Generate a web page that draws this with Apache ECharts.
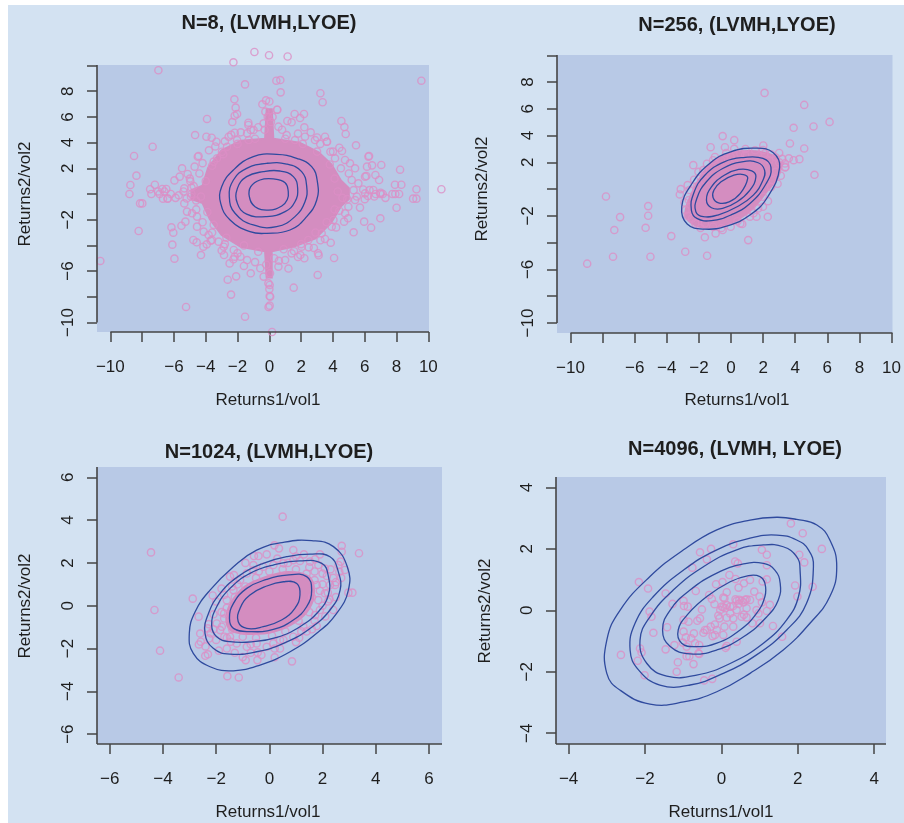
<!DOCTYPE html>
<html><head><meta charset="utf-8">
<script src="https://cdn.jsdelivr.net/npm/echarts@6/dist/echarts.min.js"></script>
<style>
html,body{margin:0;padding:0;background:#fff;width:904px;height:823px;overflow:hidden}
#bg{position:absolute;left:8px;top:5px;right:0;bottom:0;background:#d3e2f2}
#main{position:absolute;left:0;top:0;width:904px;height:823px}
</style></head>
<body><div id="bg"></div><div id="main"></div>
<script>
// ---------- texts ----------
const panelTitles = ['N=8, (LVMH,LYOE)', 'N=256, (LVMH,LYOE)', 'N=1024, (LVMH,LYOE)', 'N=4096, (LVMH, LYOE)'];
const xName = 'Returns1/vol1';
const yName = 'Returns2/vol2';

// ---------- ticks / labels ----------
const ticks10 = [-10, -8, -6, -4, -2, 0, 2, 4, 6, 8, 10];
const ticks6 = [-6, -4, -2, 0, 2, 4, 6];
const ticks4 = [-4, -2, 0, 2, 4];
const xLabels10 = [-10, -6, -4, -2, 0, 2, 4, 6, 8, 10];
const yLabels10 = [-10, -6, -2, 2, 4, 6, 8];

// ---------- axis ranges ----------
const p1XRange = [-10.84, 10.04], p1YRange = [-10.74, 10.04];
const p2XRange = [-10.84, 10.06], p2YRange = [-10.75, 10.02];
const p3XRange = [-6.48, 6.49],  p3YRange = [-6.46, 6.48];
const p4XRange = [-4.33, 4.31],  p4YRange = [-4.35, 4.34];
// extent of the drawn axis lines
const p1XLine = [-10, 10.04], p1YLine = [-10, 10.04];
const p2XLine = [-10, 10.06], p2YLine = [-10, 10.02];
const p3XLine = [-6.48, 6.49], p3YLine = [-6.46, 6.48];
const p4XLine = [-4.33, 4.31], p4YLine = [-4.35, 4.34];

// ---------- panel 1 (N=8) ----------
const p1Points = [[-6.98,9.63],[-2.26,10.25],[-0.94,11.05],[-0.02,10.8],[1.15,10.7],[9.56,8.82],[10.82,0.37],[-10.63,-5.21],[-1.53,8.53],[-3.92,5.84],[-7.34,3.68],[-8.51,2.96],[-8.36,1.43],[-8.74,0.70],[-8.8,0.0],[-8.13,-0.73],[-7.99,-0.73],[-8.22,-2.88],[-6.16,-2.59],[-6.04,-3.01],[-5.53,-2.47],[-6.1,-3.94],[-5.97,-5.03],[-5.24,-8.79],[-1.53,-9.55],[-2.41,-7.83],[-2.62,-6.67],[-2.09,-6.41],[-4.3,-4.75],[-4.78,-3.58],[-4.57,-3.76],[-4.15,-4.1],[-3.94,-3.92],[-3.69,-3.63],[-2.85,-4.75],[-2.5,-5.4],[-2.26,-5.08],[-2.18,-4.88],[-1.17,-6.17],[-4.67,4.59],[-4.45,2.96],[-4.7,2.13],[-3.96,4.46],[-3.63,4.38],[-3.33,4.07],[-2.56,4.46],[-2.18,4.77],[-2.33,5.6],[-2.18,6.09],[-2.12,6.72],[-2.2,7.37],[-2.03,6.23],[-1.32,5.55],[-1.32,5.37],[-1.17,4.98],[-0.21,7.29],[-0.44,6.98],
[-7.5,0.37],[-7.2,0.72],[-7.42,0],[-6.73,0.39],[-6.48,0.39],[-6.69,-0.36],[-6.4,-0.36],
[0.44,8.82],[0.69,8.87],[0.71,7.91],[3.21,7.84],[3.35,7.14],[0.5,6.56],[1.13,5.68],[1.4,5.58],[1.59,6.23],[1.93,5.91],[2.18,6.23],[2.2,5.19],[4.53,5.68],[4.72,5.21],[4.8,4.67],[5.45,3.79],[6.27,2.96],[7.04,2.26],[6.14,2.13],[6.46,2.23],[8.22,1.89],[6.1,1.4],[6.67,1.48],[6.9,1.09],[7.9,0.72],[8.3,0.72],[7.92,0],[8.16,0],[7.74,0],[9.25,0.37],[9.04,-0.36],[9.25,-0.36],[8.0,-1.07],[6.54,0.31],[6.69,0],[6.98,0],[7.13,0],[6.98,-1.89],[6.4,-2.62],[5.96,-2.15],[5.3,-2.98],[4.07,-4.98],[3.86,-3.79],[3.21,-3.6],[3.06,-4.61],[3.1,-4.77],[3.04,-6.3],[1.53,-7.29],[2.47,-4.15],[1.95,-4.75],[1.55,-4.44],[4.57,3.35],[3.63,4.07],[3.84,3.29],[4.7,-2.15],[4.95,-1.89],[0.02,-7.08],[0.02,-7.94],[0.02,-8.69],[0.17,-10.74],
[-5.49,2.0],[-5.14,1.56],[-5.64,1.35],[-5.97,1.06],[-4.97,0.99],[-4.76,0.62],[-5.35,0.44],[-4.93,-0.21],[-5.35,-0.73],[-5.18,-1.37],[-4.86,-1.5],[-4.55,-1.76],[-5.28,-2.15],[-4.55,-2.54],[-4.13,-2.93],[-3.82,-3.19],[-3.61,-3.58],[-3.19,-3.71],[-2.87,-4.1],[-2.24,-4.36],[-1.82,-4.88],[-1.4,-5.14],[-0.57,-5.78],[-0.36,-6.43],[-3.5,2.52],[-3.29,2.78],[-2.98,3.29],[-2.66,3.68],[-2.03,4.2],[-1.4,4.72],[-0.99,4.98],[-0.36,5.5],[-0.25,6.41],[-1.3,4.2],
[0.48,6.56],[0.57,5.24],[1.09,4.59],[1.61,4.2],[2.24,4.46],[2.87,4.2],[3.5,4.46],[3.61,4.07],[4.13,2.78],[4.76,2.65],[5.07,2.39],[5.39,2.0],[6.02,1.35],[5.6,0.83],[5.18,1.09],[6.02,0.05],[5.7,-1.06],[5.39,-0.47],[4.97,-0.99],[4.76,-1.5],[4.03,-2.02],[3.92,-2.54],[3.29,-3.06],[2.45,-3.58],[2.03,-4.1],[1.4,-4.62],[0.99,-5.14],[0.57,-5.65],[0.04,-6.17],[-0.06,-6.95],[6.23,2.91],
[-7.0,0.2],[-6.6,0.2],[-6.2,0.0],[-5.9,-0.3],[-6.4,-0.35],[-6.9,0],[6.3,0.3],[6.6,-0.2],[7.0,0.1],[7.3,-0.3],[6.0,-0.4],[0.0,7.2],[-0.1,6.0],[0.1,5.6],[0.0,-7.4],[0.05,-8.0],[-0.05,-8.8],
[-4.4,1.6],[-4.2,2.4],[-3.8,3.4],[-2.4,4.6],[-1.8,4.8],[-0.7,5.2],[0.8,5.0],[1.8,4.7],[2.6,4.8],[3.2,3.9],[4.0,3.3],[4.5,2.0],[5.0,1.6],[4.6,-0.3],[4.4,-1.3],[4.2,-2.6],[3.5,-3.5],[2.8,-4.2],[1.8,-4.9],[0.6,-5.2],[-0.9,-5.3],[-2.0,-4.6],[-2.8,-3.9],[-3.6,-3.0],[-4.2,-2.2],[-4.6,-1.2],[-4.9,0.0],[-5.0,1.2],[-4.5,2.9],[-3.4,3.7],[-2.8,4.1],[4.4,3.6],[3.0,4.4],[-3.0,-4.4],[2.2,-5.0],[-1.6,-5.6],[1.2,-5.8],
[-4.0,1.0],[-4.3,-0.2],[-3.9,-1.4],[-3.5,-2.4],[-2.7,-3.4],[-1.6,-4.0],[-0.7,-4.5],[0.9,-4.3],[2.0,-3.9],[2.9,-3.0],[3.6,-2.2],[4.1,-1.2],[4.3,0.2],[4.1,1.2],[3.8,2.3],[3.0,3.3],[2.1,3.9],[1.0,4.3],[-0.9,4.3],[-2.0,3.9],[-2.9,3.1],[-3.6,2.2],[-4.9,0.5],[-4.6,-0.5],[5.3,0.3],[5.5,-0.2],[5.9,0.35],[6.2,-0.15],[-5.4,0.2],[-5.7,-0.1],[-5.2,-0.35],[4.9,-0.4],[0.3,-5.0],[-0.3,5.0],[0.2,6.0],[-0.2,-5.5]];
const p1Core = [[-0.17,6.6],[0.15,6.6],[0.25,4.3],[1.9,4.0],[3.1,3.25],[3.9,2.3],[4.5,1.05],[5.0,0.45],[5.0,-0.4],[4.5,-0.95],[3.9,-2.2],[2.9,-3.45],[1.5,-4.1],[0.15,-4.45],[0.15,-6.5],[-0.17,-6.5],[-0.27,-4.45],[-1.8,-4.1],[-3.0,-3.2],[-3.75,-1.95],[-4.2,-0.7],[-4.9,-0.4],[-4.9,0.3],[-4.2,0.65],[-3.85,2.05],[-3.0,3.4],[-1.8,4.15],[-0.27,4.3]];
const p1Contours = [
 [[3.02,0.96],[2.66,2.13],[1.72,2.78],[0.46,3.09],[-1.01,2.91],[-2.26,1.87],[-3.0,0.57],[-3.06,-0.73],[-2.47,-2.02],[-1.22,-2.93],[-0.17,-3.06],[1.3,-2.8],[2.35,-1.76],[2.98,-0.47]],
 [[2.35,0.57],[2.03,1.74],[1.09,2.33],[-0.17,2.39],[-1.43,2.0],[-2.26,1.09],[-2.52,-0.21],[-2.16,-1.5],[-1.01,-2.41],[0.46,-2.54],[1.61,-1.76],[2.24,-0.6]],
 [[1.78,0.44],[1.51,1.35],[0.67,1.79],[-0.38,1.74],[-1.43,1.35],[-2.01,0.44],[-2.01,-0.73],[-1.43,-1.56],[-0.17,-1.76],[0.99,-1.37],[1.61,-0.6]],
 [[1.19,0.18],[0.99,0.88],[0.25,1.17],[-0.59,1.09],[-1.17,0.57],[-1.26,-0.21],[-0.9,-0.99],[-0.06,-1.25],[0.78,-0.93],[1.13,-0.42]]];

// ---------- panel 2 (N=256) ----------
const p2Points = [[2.09,7.19],[4.56,6.29],[6.14,5.02],[5.14,4.68],[3.9,4.58],[3.67,3.41],[4.56,3.04],[4.26,2.24],[3.9,2.16],[3.36,1.62],[3.36,1.92],[3.19,2.26],[5.2,1.07],[2.29,-2.07],[1.07,-3.81],[-0.52,3.96],[0.2,3.66],[-1.27,3.13],[-0.38,3.13],[0.2,3.01],[2.01,3.26],[-2.35,1.79],[-3.13,0],[-3.19,-0.4],[-7.79,-0.55],[-5.16,-1.27],[-5.16,-1.99],[-5.32,-2.89],[-6.91,-2.09],[-7.27,-3.06],[-3.72,-3.51],[-8.96,-5.57],[-7.35,-5.05],[-5.02,-5.05],[-2.85,-4.68],[-1.49,-4.98],[-1.63,-3.6],[-0.96,-3.31],[-0.52,-3.06],[0.7,-2.61],[3.39,1.66],
[-2.59,-0.07],[-2.03,1.29],[-1.73,1.42],[-1.12,2.16],[-0.62,2.16],[-0.02,2.41],[0.58,2.66],[0.88,2.54],[1.99,2.91],[2.09,2.66],[2.39,2.16],[2.79,2.36],[2.79,1.29],[2.59,0.67],[2.49,0.17],[1.99,-0.57],[1.69,-1.44],[1.18,-2.06],[0.58,-2.56],[-0.02,-2.81],[-1.12,-2.81],[-1.63,-2.56],[-2.23,-2.56],[-2.43,-2.19],[-2.83,-1.57],[-2.63,-0.82],[-2.13,0.17],[-1.63,0.67],[1.99,-1.32],[1.59,-2.06],
[-2.9,-1.0],[-2.7,-2.0],[-1.9,-2.9],[-0.6,-2.9],[0.4,-2.4],[1.4,-1.8],[2.3,-0.9],[2.9,0.4],[3.1,1.0],[3.0,2.0],[2.5,2.6],[1.5,2.9],[0.9,3.0],[-0.3,2.7],[-1.0,2.4],[-1.5,1.9],[-2.3,0.7],[-2.7,0.3],[3.6,2.3],[3.0,2.7]];
const p2Core = [[-2.85,-1.75],[-2.5,-0.45],[-1.85,1.0],[-1.2,2.0],[-0.2,2.65],[1.2,2.85],[2.45,2.6],[3.05,2.0],[2.95,0.95],[2.25,-0.15],[1.4,-1.4],[0.4,-2.3],[-0.6,-2.75],[-1.85,-2.85],[-2.65,-2.35]];
const p2Contours = [
 [[3.03,1.62],[2.63,2.71],[1.59,3.06],[-0.02,2.79],[-1.33,1.92],[-2.43,0.42],[-3.07,-1.32],[-2.73,-2.61],[-1.63,-2.99],[-0.22,-2.74],[1.18,-1.94],[2.29,-0.57]],
 [[2.49,1.62],[1.99,2.29],[0.78,2.36],[-0.42,2.04],[-1.63,1.04],[-2.33,-0.32],[-2.47,-1.57],[-2.13,-2.19],[-1.22,-2.36],[-0.02,-1.94],[1.18,-1.07],[2.19,0.42]],
 [[2.09,1.42],[1.69,1.97],[0.68,2.04],[-0.52,1.54],[-1.53,0.55],[-2.13,-0.7],[-2.19,-1.69],[-1.73,-2.06],[-0.82,-1.94],[0.38,-1.32],[1.39,-0.45],[1.99,0.67]],
 [[1.55,0.92],[1.29,1.37],[0.48,1.47],[-0.42,1.04],[-1.22,0.17],[-1.53,-0.82],[-1.22,-1.39],[-0.52,-1.44],[0.38,-0.95],[1.18,-0.07]],
 [[1.04,0.8],[0.78,1.09],[0.18,1.04],[-0.62,0.55],[-1.06,-0.07],[-1.12,-0.62],[-0.78,-1.02],[-0.12,-0.95],[0.58,-0.32]]];

// ---------- panel 3 (N=1024) ----------
const p3Points = [[0.5,4.16],[-4.45,2.49],[-4.32,-0.2],[-4.11,-2.1],[-3.41,-3.35],[-1.58,-3.29],[-1.15,-3.35],[0.85,-2.6],[-2.88,0.33],[-2.13,0.48],[-2.66,-0.51],[3.37,2.45],[2.72,2.8],[2.72,2.52],[2.68,2.06],[2.84,1.67],[2.63,1.59],[2.97,0.61],[3.12,0.61],[0.19,2.82],[0.36,2.68],[-0.58,2.32],[-0.41,2.32],[-2.41,-2.34],[-2.31,-2.27],[-2.65,-1.81],[-2.58,-1.68],[-2.27,-1.53],[-2.21,-1.29],[-2.32,-1.06],[-2.28,-0.86],[-1.79,-0.98],[-1.7,-0.36],[-1.69,-1.45],[-1.45,-1.68],[-0.89,-2.54],[-0.45,-2.54],[0.2,-2.41],[-0.44,-2.18],[-0.1,-1.92],[1.12,-1.5],[1.78,-0.95],[2.26,0.3],[2.47,0.97],[-1.48,1.36],[-1.33,1.43],[-0.6,1.67],
[0.9,2.13],[1.15,2.09],[1.53,2.06],[1.72,2.17],[1.84,1.9],[2.09,1.74],[2.16,1.39],[2.28,0.97],[1.78,0.97],[2.09,0.58],[1.84,0.26],[1.9,-0.2],[1.72,-0.44],[1.28,-0.98],[0.9,-1.45],[0.53,-1.6],[0.15,-1.76],[-0.48,-1.76],[-0.85,-1.92],[-1.23,-1.76],[-1.48,-1.45],[-1.85,-1.14],[-1.98,-0.83],[-1.6,0.26],[-1.35,0.73],[-1.1,1.2],[-0.85,1.51],[-0.23,1.82],[0.15,1.9],[0.53,1.98],
[1.0,1.7],[1.4,1.5],[1.7,1.2],[1.9,0.7],[1.6,0.4],[1.5,-0.3],[1.1,-0.7],[0.6,-1.2],[0.1,-1.4],[-0.5,-1.5],[-1.0,-1.45],[-1.4,-1.1],[-1.7,-0.6],[-1.6,-0.1],[-1.3,0.4],[-0.9,0.9],[-0.5,1.3],[0.0,1.6],[0.5,1.7],[2.4,1.3],[2.0,1.5],[2.2,0.2],[-2.0,-1.6],[-1.9,-2.1],[-1.3,-2.2],[-0.7,-2.2],[0.4,-2.0],[1.4,-1.2],[2.4,-0.2],[2.6,1.9],[-1.8,0.8],[-2.0,0.2],[0.9,2.6],[-0.9,2.0],[1.3,2.4],
[2.3,1.7],[2.5,1.1],[2.5,0.4],[2.1,-0.5],[1.6,-1.1],[1.0,-1.7],[0.2,-2.0],[-0.3,-2.3],[-1.0,-2.4],[-1.6,-2.0],[-2.1,-1.1],[-2.1,-0.4],[-1.7,0.5],[-1.2,1.0],[-0.6,1.9],[0.3,2.2],[1.0,2.3],[1.7,1.6],[2.0,1.0],[2.0,0.0],[1.2,-1.2],[0.4,-1.6],[-0.7,-1.8],[-1.6,-1.5],[-1.8,-0.3],[-1.4,0.9],[-0.4,1.6],[0.7,2.0],[1.5,1.8],[2.2,0.6],[1.7,-0.7],[-2.4,-1.9],[-2.6,-1.3],[-0.1,2.4],[2.7,1.3],[1.9,2.4]];
const p3Core = [[1.5,1.35],[1.68,0.7],[1.52,-0.08],[1.0,-0.75],[0.15,-1.22],[-0.78,-1.32],[-1.45,-1.15],[-1.62,-0.6],[-1.45,0.12],[-0.92,0.9],[-0.1,1.36],[0.72,1.58]];
const p3Contours = [
 [[1.59,3.04],[2.41,2.76],[2.93,1.82],[2.97,0.73],[2.53,-0.36],[1.78,-1.29],[0.78,-2.15],[-0.35,-2.77],[-1.35,-3.04],[-2.23,-2.85],[-2.86,-2.23],[-3.01,-1.29],[-2.79,-0.28],[-2.23,0.73],[-1.35,1.82],[-0.48,2.6],[0.53,2.96]],
 [[2.28,2.29],[2.59,1.59],[2.66,0.73],[2.28,-0.2],[1.53,-1.06],[0.53,-1.76],[-0.48,-2.15],[-1.48,-2.26],[-2.11,-1.99],[-2.42,-1.29],[-2.29,-0.36],[-1.85,0.58],[-1.1,1.43],[-0.23,1.98],[0.65,2.29],[1.53,2.41]],
 [[1.97,1.98],[2.22,1.36],[2.22,0.5],[1.84,-0.28],[1.15,-0.98],[0.28,-1.48],[-0.6,-1.68],[-1.48,-1.68],[-1.98,-1.45],[-2.17,-0.9],[-1.98,-0.05],[-1.48,0.81],[-0.73,1.51],[0.15,1.9],[1.15,2.09]],
 [[1.4,1.36],[1.59,0.73],[1.4,-0.05],[0.9,-0.67],[0.15,-1.11],[-0.73,-1.21],[-1.35,-1.06],[-1.5,-0.59],[-1.35,0.11],[-0.85,0.81],[-0.1,1.23],[0.65,1.43]],
 [[1.03,1.04],[1.15,0.5],[0.96,-0.12],[0.46,-0.67],[-0.23,-0.98],[-0.85,-1.06],[-1.17,-0.75],[-1.1,-0.12],[-0.73,0.5],[-0.1,0.92],[0.53,1.12]]];

// ---------- panel 4 (N=4096) ----------
const p4Points = [[1.82,2.83],[2.13,2.51],[2.63,2.0],[0.31,2.15],[-0.56,1.89],[-0.27,2.0],[-0.38,1.66],[-0.76,1.39],[-2.16,0.92],[-1.92,0.71],[-1.46,0.55],[1.06,1.97],[1.19,1.81],[2.04,1.81],[2.17,1.56],[0.36,1.59],[0.43,1.53],[1.19,1.47],[1.93,0.81],[2.39,0.77],[1.99,0.45],[1.59,-0.86],[1.35,-0.51],[-1.28,0.21],[-0.99,0.31],[-0.88,0.12],[-0.98,0.14],[-0.67,0.63],[-1.88,-0.04],[-1.83,-0.21],[-1.78,-0.73],[-1.42,-0.55],[-2.13,-1.24],[-2.09,-1.37],[-2.63,-1.45],[-2.19,-1.64],[-2.01,-2.11],[-1.46,-1.27],[-1.17,-2.0],[-1.14,-1.69],[-0.73,-1.75],[-0.91,-1.49],[-0.84,-1.49],[-0.6,-1.4],[-0.58,-1.42],[-1.23,-1.13],[-1.01,-1.05],[-0.99,-0.69],[-0.99,-0.31],[-0.93,-0.88],[-0.45,-2.28],[-0.24,-2.23],[0.14,-1.16],[0.4,-1.02],[0.11,-1.22],
[-0.32,0.5],[-0.25,0.37],[-0.18,0.2],[0.08,0.39],[0.14,0.59],[-0.14,0.85],[0.03,0.92],[0.21,1.15],[0.37,1.02],[0.45,0.74],[0.59,0.88],[0.75,0.99],[0.86,0.61],[1.0,0.45],[1.06,0.26],[1.27,0.18],[1.19,-0.02],[1.01,-0.42],[0.81,-0.42],[0.66,-0.23],[0.53,-0.21],[0.4,0.01],[0.31,0.14],[0.23,0.12],[0.14,0.17],[0.05,0.1],[-0.03,0.01],[-0.08,-0.17],[-0.17,-0.46],[-0.28,-0.53],[-0.38,-0.64],[-0.47,-0.73],[-0.51,0.03],[-0.56,-0.26],[-0.63,-0.34],[-0.43,-0.64],[-0.23,-0.84],[-0.17,-0.8],[0.05,-0.8],[0.08,-0.53],[0.31,-0.53],[0.45,0.21],[0.53,0.31],[0.58,0.26],[0.47,0.34],[0.66,0.07],[0.75,0.34],[0.92,0.01],[0.59,-0.14],[0.23,-0.1],[0.1,0.07],[0.01,0.12],[-0.05,-0.26],[0.31,-0.26],[0.62,0.34],[0.66,0.36],[0.4,0.31],[0.05,0.42],[1.08,0.94],[1.19,1.01],[0.97,-0.1],[0.37,0.36],[0.14,-0.24],[-0.12,-0.64],[-0.72,-0.75],[-0.79,-0.91],[-0.69,-1.07],[-0.58,-1.13],[-0.91,-1.18],[-0.86,-0.37]];
const p4Core = [];
const p4Contours = [
 [[3.02,1.42],[2.84,2.29],[2.5,2.78],[1.97,2.96],[1.45,3.03],[0.75,2.94],[-0.12,2.62],[-0.99,1.97],[-1.87,1.1],[-2.65,0.01],[-3.0,-0.97],[-3.0,-2.05],[-2.65,-2.6],[-1.87,-3.05],[-0.99,-2.98],[-0.12,-2.65],[0.75,-2.05],[1.62,-1.29],[2.32,-0.42],[2.84,0.45]],
 [[2.41,1.42],[2.28,1.97],[1.97,2.29],[1.45,2.45],[0.75,2.35],[-0.12,1.97],[-0.99,1.31],[-1.78,0.45],[-2.26,-0.42],[-2.39,-1.29],[-2.17,-1.94],[-1.61,-2.43],[-0.82,-2.43],[0.05,-2.05],[0.92,-1.45],[1.71,-0.64],[2.23,0.23]],
 [[2.06,1.31],[1.97,1.75],[1.62,2.07],[1.1,2.13],[0.4,1.97],[-0.47,1.42],[-1.26,0.66],[-1.87,-0.21],[-2.13,-0.97],[-1.95,-1.73],[-1.43,-2.14],[-0.65,-2.11],[0.23,-1.73],[1.1,-1.07],[1.71,-0.31],[2.02,0.45]],
 [[1.54,0.88],[1.4,1.31],[1.1,1.53],[0.58,1.51],[-0.12,1.21],[-0.82,0.66],[-1.34,0.01],[-1.54,-0.64],[-1.34,-1.18],[-0.82,-1.42],[-0.12,-1.29],[0.58,-0.86],[1.19,-0.21],[1.49,0.34]],
 [[1.14,0.88],[1.01,1.1],[0.71,1.13],[0.23,0.93],[-0.38,0.45],[-0.86,-0.1],[-1.13,-0.64],[-1.04,-1.07],[-0.65,-1.18],[-0.12,-1.07],[0.49,-0.64],[0.92,-0.1],[1.14,0.45]]];

// ---------- styling / layout ----------
const PAGE_FONT = '"Liberation Sans", Arial, Helvetica, sans-serif';
const C = {plot:'#b8c9e6', point:'#dc8ec6', core:'#d48dc0', contour:'#2f4a9e', axis:'#454545', text:'#1e1e1e'};

const panels = [
  {pts:p1Points, core:p1Core, cont:p1Contours, xr:p1XRange, yr:p1YRange, xt:ticks10, yt:ticks10, xl:xLabels10, yl:yLabels10, xLine:p1XLine, yLine:p1YLine, coreSmooth:0},
  {pts:p2Points, core:p2Core, cont:p2Contours, xr:p2XRange, yr:p2YRange, xt:ticks10, yt:ticks10, xl:xLabels10, yl:yLabels10, xLine:p2XLine, yLine:p2YLine, coreSmooth:0.35},
  {pts:p3Points, core:p3Core, cont:p3Contours, xr:p3XRange, yr:p3YRange, xt:ticks6, yt:ticks6, xl:ticks6, yl:ticks6, xLine:p3XLine, yLine:p3YLine, coreSmooth:0.35},
  {pts:p4Points, core:p4Core, cont:p4Contours, xr:p4XRange, yr:p4YRange, xt:ticks4, yt:ticks4, xl:ticks4, yl:ticks4, xLine:p4XLine, yLine:p4YLine, coreSmooth:0.35}
];
const layout = [
  {grid:{left:97, top:65, width:332, height:267}, title:[269,23], xn:[268,400], yn:[25,194]},
  {grid:{left:557, top:55, width:347, height:278}, title:[737,25], xn:[737,400], yn:[482,189]},
  {grid:{left:97, top:467, width:345, height:277}, title:[269,452], xn:[268,812], yn:[25,606]},
  {grid:{left:556, top:477, width:330, height:267}, title:[735,449], xn:[721,812], yn:[485,611]}
];

const fmt = v => (v < 0 ? '\u2212' + Math.abs(v) : String(v));

const grids = [], xAxes = [], yAxes = [], series = [], graphics = [];
panels.forEach((p, i) => {
  const L = layout[i];
  grids.push(Object.assign({show:true, backgroundColor:C.plot, borderWidth:0}, L.grid));
  const tick = (vals) => ({show:true, inside:false, length:10, customValues:vals, lineStyle:{color:C.axis, width:1.5}});
  xAxes.push({gridIndex:i, type:'value', min:p.xr[0], max:p.xr[1], splitLine:{show:false},
    axisLine:{show:false, onZero:false}, axisTick:tick(p.xt),
    axisLabel:{customValues:p.xl, formatter:fmt, fontSize:17, color:C.text, margin:27, fontFamily:PAGE_FONT}});
  yAxes.push({gridIndex:i, type:'value', min:p.yr[0], max:p.yr[1], splitLine:{show:false},
    axisLine:{show:false, onZero:false}, axisTick:tick(p.yt),
    axisLabel:{customValues:p.yl, formatter:fmt, fontSize:17, color:C.text, margin:20, rotate:90, fontFamily:PAGE_FONT}});

  if (p.core.length) {
    series.push({type:'custom', xAxisIndex:i, yAxisIndex:i, z:2, silent:true, data:[p.core[0]],
      renderItem:(params, api) => ({type:'polygon',
        shape:{points:p.core.map(q => api.coord(q)), smooth:p.coreSmooth},
        style:{fill:C.core, stroke:C.core, lineWidth:2}})});
  }
  series.push({type:'scatter', xAxisIndex:i, yAxisIndex:i, z:3, clip:false, silent:true, data:p.pts,
    symbol:'circle', symbolSize:7.2,
    itemStyle:{color:'rgba(0,0,0,0)', borderColor:C.point, borderWidth:1.4}});
  series.push({type:'custom', xAxisIndex:i, yAxisIndex:i, z:4, silent:true, data:p.cont.map(c => c[0]),
    renderItem:(params, api) => ({type:'polygon',
      shape:{points:p.cont[params.dataIndex].map(q => api.coord(q)), smooth:0.45},
      style:{fill:null, stroke:C.contour, lineWidth:1.3}})});
  // R style axis lines
  series.push({type:'line', xAxisIndex:i, yAxisIndex:i, z:5, clip:false, silent:true, symbol:'none',
    data:[[p.xLine[0], p.yr[0]], [p.xLine[1], p.yr[0]]], lineStyle:{color:C.axis, width:1.6}});
  series.push({type:'line', xAxisIndex:i, yAxisIndex:i, z:5, clip:false, silent:true, symbol:'none',
    data:[[p.xr[0], p.yLine[0]], [p.xr[0], p.yLine[1]]], lineStyle:{color:C.axis, width:1.6}});

  graphics.push({type:'text', x:L.title[0], y:L.title[1], z:10,
    style:{text:panelTitles[i], font:'bold 20px ' + PAGE_FONT, fill:C.text, align:'center', verticalAlign:'middle', textAlign:'center', textVerticalAlign:'middle'}});
  graphics.push({type:'text', x:L.xn[0], y:L.xn[1], z:10,
    style:{text:xName, font:'17px ' + PAGE_FONT, fill:C.text, align:'center', verticalAlign:'middle', textAlign:'center', textVerticalAlign:'middle'}});
  graphics.push({type:'text', x:L.yn[0], y:L.yn[1], rotation:Math.PI / 2, z:10,
    style:{text:yName, font:'17px ' + PAGE_FONT, fill:C.text, align:'center', verticalAlign:'middle', textAlign:'center', textVerticalAlign:'middle'}});
});

const chart = echarts.init(document.getElementById('main'), null, {renderer:'canvas', width:904, height:823});
chart.setOption({backgroundColor:'transparent', animation:false, grid:grids, xAxis:xAxes, yAxis:yAxes, series:series, graphic:graphics});
</script>
</body></html>
